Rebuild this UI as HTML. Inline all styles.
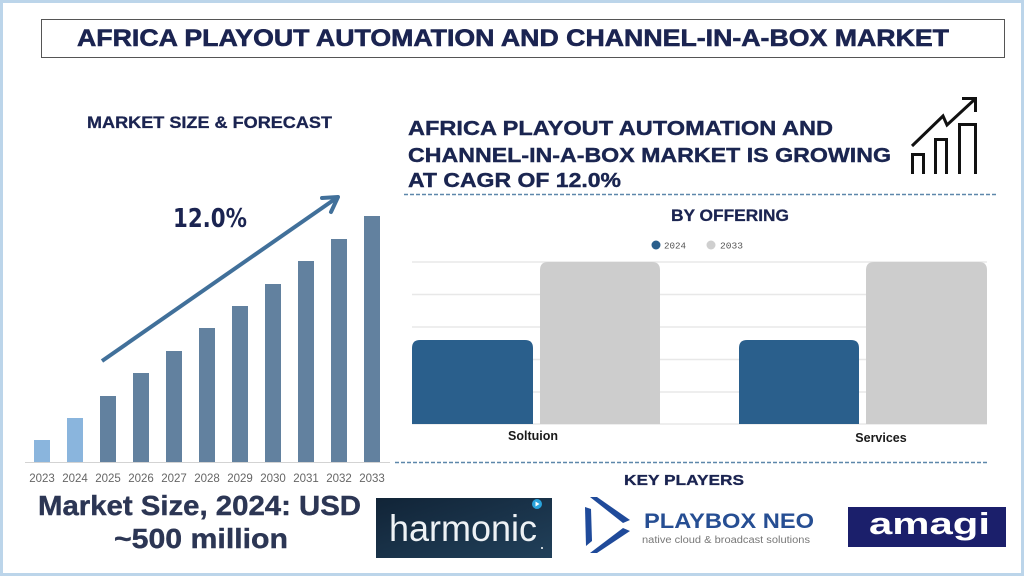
<!DOCTYPE html>
<html><head><meta charset="utf-8"><style>
html,body{margin:0;padding:0;width:1024px;height:576px;overflow:hidden;background:#fff}
svg{display:block}
text{font-family:"Liberation Sans",sans-serif}
</style></head><body>
<svg width="1024" height="576" viewBox="0 0 1024 576" xmlns="http://www.w3.org/2000/svg">
<defs>
<linearGradient id="hg" x1="0" y1="0" x2="1" y2="1">
<stop offset="0" stop-color="#112437"/><stop offset="1" stop-color="#21405a"/>
</linearGradient>
</defs>
<rect x="0" y="0" width="1024" height="576" fill="#fff"/>
<rect x="1.5" y="1.5" width="1021" height="573" fill="none" stroke="#bcd5ea" stroke-width="3"/>

<!-- Title -->
<rect x="41.5" y="19.5" width="963" height="38" fill="#fff" stroke="#555" stroke-width="1"/>
<text x="77" y="46" font-size="24" font-weight="bold" fill="#1b2451" stroke="#1b2451" stroke-width="0.6" textLength="872" lengthAdjust="spacingAndGlyphs">AFRICA PLAYOUT AUTOMATION AND CHANNEL-IN-A-BOX MARKET</text>

<!-- Left section -->
<text x="87" y="128" font-size="17" font-weight="bold" fill="#1b2451" stroke="#1b2451" stroke-width="0.3" textLength="245" lengthAdjust="spacingAndGlyphs">MARKET SIZE &amp; FORECAST</text>
<text x="173" y="227" font-size="26" font-weight="bold" fill="#1b2451" style="font-family:'DejaVu Sans',sans-serif" textLength="74" lengthAdjust="spacingAndGlyphs">12.0%</text>

<line x1="25" y1="462.5" x2="390" y2="462.5" stroke="#d3d3d3" stroke-width="1"/>
<g fill="#62819f">
<rect x="34" y="440" width="16" height="22" fill="#8ab5dd"/>
<rect x="67" y="418" width="16" height="44" fill="#8ab5dd"/>
<rect x="100" y="396" width="16" height="66"/>
<rect x="133" y="373" width="16" height="89"/>
<rect x="166" y="351" width="16" height="111"/>
<rect x="199" y="328" width="16" height="134"/>
<rect x="232" y="306" width="16" height="156"/>
<rect x="265" y="284" width="16" height="178"/>
<rect x="298" y="261" width="16" height="201"/>
<rect x="331" y="239" width="16" height="223"/>
<rect x="364" y="216" width="16" height="246"/>
</g>
<g font-size="11.5" fill="#666" text-anchor="middle">
<text x="42" y="482">2023</text><text x="75" y="482">2024</text><text x="108" y="482">2025</text>
<text x="141" y="482">2026</text><text x="174" y="482">2027</text><text x="207" y="482">2028</text>
<text x="240" y="482">2029</text><text x="273" y="482">2030</text><text x="306" y="482">2031</text>
<text x="339" y="482">2032</text><text x="372" y="482">2033</text>
</g>
<line x1="102" y1="361" x2="335" y2="199" stroke="#41709a" stroke-width="4"/>
<polyline points="322,198 338,197 331,212" fill="none" stroke="#41709a" stroke-width="4" stroke-linecap="round" stroke-linejoin="round"/>

<text x="38" y="515" font-size="28" font-weight="bold" fill="#2c3654" stroke="#2c3654" stroke-width="0.4" textLength="323" lengthAdjust="spacingAndGlyphs">Market Size, 2024: USD</text>
<text x="114" y="548" font-size="28" font-weight="bold" fill="#2c3654" stroke="#2c3654" stroke-width="0.4" textLength="174" lengthAdjust="spacingAndGlyphs">~500 million</text>

<!-- Right headline -->
<g font-size="20" font-weight="bold" fill="#1a2550" stroke="#1a2550" stroke-width="0.4">
<text x="408" y="135" textLength="425" lengthAdjust="spacingAndGlyphs">AFRICA PLAYOUT AUTOMATION AND</text>
<text x="408" y="162" textLength="483" lengthAdjust="spacingAndGlyphs">CHANNEL-IN-A-BOX MARKET IS GROWING</text>
<text x="408" y="187" textLength="213" lengthAdjust="spacingAndGlyphs">AT CAGR OF 12.0%</text>
</g>
<!-- icon -->
<g fill="none" stroke="#111" stroke-width="3">
<polyline points="912.5,174 912.5,154.5 923.5,154.5 923.5,174"/>
<polyline points="935.5,174 935.5,139.5 946.5,139.5 946.5,174"/>
<polyline points="959.5,174 959.5,124.5 975.5,124.5 975.5,174"/>
<polyline points="912,146 943,116 947,125 974,100"/>
<polyline points="962,98.5 975.5,98.5 975.5,112"/>
</g>
<line x1="404" y1="194.5" x2="997" y2="194.5" stroke="#5d87aa" stroke-width="1.5" stroke-dasharray="4 2"/>

<!-- By offering chart -->
<text x="671" y="221" font-size="17" font-weight="bold" fill="#1b2451" stroke="#1b2451" stroke-width="0.3" textLength="118" lengthAdjust="spacingAndGlyphs">BY OFFERING</text>
<circle cx="656" cy="245" r="4.5" fill="#2a5f8c"/>
<text x="664" y="248.5" font-size="9.5" fill="#555" style="font-family:'Liberation Mono',monospace" textLength="22" lengthAdjust="spacingAndGlyphs">2024</text>
<circle cx="711" cy="245" r="4.5" fill="#cfcfcf"/>
<text x="720" y="248.5" font-size="9.5" fill="#555" style="font-family:'Liberation Mono',monospace" textLength="23" lengthAdjust="spacingAndGlyphs">2033</text>
<g stroke="#e8e8e8" stroke-width="1.5">
<line x1="412" y1="262" x2="987" y2="262"/>
<line x1="412" y1="294.5" x2="987" y2="294.5"/>
<line x1="412" y1="327" x2="987" y2="327"/>
<line x1="412" y1="359.5" x2="987" y2="359.5"/>
<line x1="412" y1="392" x2="987" y2="392"/>
<line x1="412" y1="424" x2="987" y2="424"/>
</g>
<path d="M412,424 V348 Q412,340 420,340 H525 Q533,340 533,348 V424 Z" fill="#2a5f8c"/>
<path d="M540,424 V270 Q540,262 548,262 H652 Q660,262 660,270 V424 Z" fill="#cdcdcd"/>
<path d="M739,424 V348 Q739,340 747,340 H851 Q859,340 859,348 V424 Z" fill="#2a5f8c"/>
<path d="M866,424 V270 Q866,262 874,262 H979 Q987,262 987,270 V424 Z" fill="#cdcdcd"/>
<text x="533" y="440" font-size="12.5" font-weight="bold" fill="#1a1a1a" text-anchor="middle">Soltuion</text>
<text x="881" y="442" font-size="12.5" font-weight="bold" fill="#1a1a1a" text-anchor="middle">Services</text>
<line x1="395" y1="462.5" x2="987" y2="462.5" stroke="#5d87aa" stroke-width="1.5" stroke-dasharray="4 2"/>

<!-- Key players -->
<text x="624" y="485" font-size="15" font-weight="bold" fill="#1b2451" stroke="#1b2451" stroke-width="0.3" textLength="120" lengthAdjust="spacingAndGlyphs">KEY PLAYERS</text>

<rect x="376" y="498" width="176" height="60" fill="url(#hg)"/>
<text x="389" y="541" font-size="37" fill="#eef2f5" textLength="148" lengthAdjust="spacingAndGlyphs">harmonic</text>
<circle cx="537" cy="504" r="5" fill="#29a3dc"/>
<polygon points="535.5,501.5 535.5,506.5 539.5,504" fill="#fff"/>
<circle cx="542" cy="548" r="1" fill="#fff"/>

<g fill="#1f4a9a">
<polygon points="590,497 597,497 630,520 623,523"/>
<polygon points="623,528 630,531 597,553 590,553"/>
<polygon points="585,507 591,509 592,541 586,546"/>
</g>
<text x="644" y="528" font-size="21" font-weight="bold" fill="#264e93" textLength="170" lengthAdjust="spacingAndGlyphs">PLAYBOX NEO</text>
<text x="642" y="543" font-size="10" fill="#777" textLength="168" lengthAdjust="spacingAndGlyphs">native cloud &amp; broadcast solutions</text>

<rect x="848" y="507" width="158" height="40" fill="#1b1f6b"/>
<text x="869" y="534" font-size="31" font-weight="bold" fill="#fff" textLength="121" lengthAdjust="spacingAndGlyphs">amagi</text>
</svg>
</body></html>
